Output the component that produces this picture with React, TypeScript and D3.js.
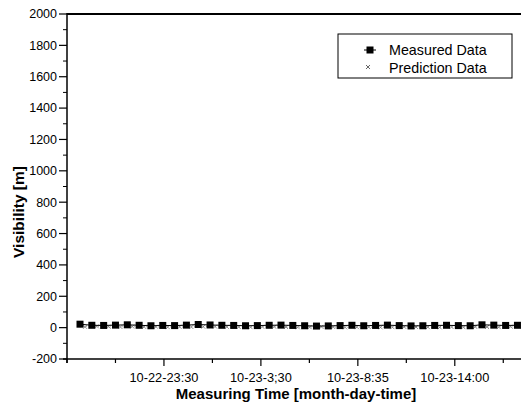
import React from "react";
import * as d3 from "d3";

// visibility samples (index based x axis)
const measured = [22, 15, 14, 16, 18, 15, 12, 14, 13, 16, 20, 17, 15, 14, 12, 13, 15, 16, 14, 12, 10, 11, 13, 15, 12, 14, 16, 13, 11, 12, 14, 15, 13, 12, 18, 16, 14, 15];
const prediction = [5, 8, 6, 4, 7, 5, 6, 3, 5, 4, 6, 7, 5, 4, 3, 5, 6, 4, 2, 3, 5, 4, 2, 3, 4, 2, 3, 5, 4, 3, 2, 4, 3, 5, 4, 3, 6, 4];

// x ticks sit at sample index positions
const xTickPos = [-1.1, 3.0, 7.1, 11.2, 15.3, 19.4, 23.5, 27.6, 31.7, 35.8];
const xTickLabels = ["", "", "10-22-23:30", "", "10-23-3;30", "", "10-23-8:35", "", "10-23-14:00", ""];
const yTicks = [-200, 0, 200, 400, 600, 800, 1000, 1200, 1400, 1600, 1800, 2000];
const yMinor = d3.range(-100, 2000, 200);

const W = 521, H = 404;
const m = { left: 67, top: 14, right: 0, bottom: 45 };

export default function App() {
  const x = d3.scaleLinear().domain([-1.1, 37.3]).range([m.left, W - m.right]);
  const y = d3.scaleLinear().domain([-200, 2000]).range([H - m.bottom, m.top]);
  const font = "Arial, 'Liberation Sans', Helvetica, sans-serif";

  const line = d3.line<number>().x((d, i) => x(i)).y(d => y(d));
  const y0 = y(-200);

  return (
    <svg width={W} height={H} style={{ position: "absolute", left: 0, top: 0, background: "#fff" }} fontFamily={font}>
      {/* frame */}
      <line x1={m.left} x2={W} y1={y(2000)} y2={y(2000)} stroke="#000" strokeWidth={2} />
      <line x1={m.left} x2={m.left} y1={y(2000) - 1} y2={y0 + 4} stroke="#000" strokeWidth={1.5} />
      <line x1={m.left - 4} x2={W} y1={y0} y2={y0} stroke="#000" strokeWidth={1.5} />

      {/* y axis */}
      {yTicks.map(t => (
        <g key={t}>
          <line x1={m.left - 8} x2={m.left} y1={y(t)} y2={y(t)} stroke="#000" strokeWidth={1.2} />
          <text x={m.left - 10} y={y(t)} dy="0.35em" textAnchor="end" fontSize={12.5}>{t}</text>
        </g>
      ))}
      {yMinor.map(t => (
        <line key={t} x1={m.left - 4} x2={m.left} y1={y(t)} y2={y(t)} stroke="#000" strokeWidth={1} />
      ))}

      {/* x axis */}
      {xTickPos.map((p, i) => (
        <g key={i}>
          <line x1={x(p)} x2={x(p)} y1={y0} y2={y0 + (xTickLabels[i] ? 7 : 4)} stroke="#000" strokeWidth={1.2} />
          {xTickLabels[i] && (
            <text x={x(p)} y={y0 + 23} textAnchor="middle" fontSize={12.8}>{xTickLabels[i]}</text>
          )}
        </g>
      ))}

      {/* series */}
      <path d={line(prediction) || ""} fill="none" stroke="#999" strokeWidth={0.8} strokeDasharray="1,2" />
      {prediction.map((d, i) => (
        <g key={i} stroke="#777" strokeWidth={0.8}>
          <line x1={x(i) + 3} x2={x(i) + 7} y1={y(d) - 2} y2={y(d) + 2} />
          <line x1={x(i) + 3} x2={x(i) + 7} y1={y(d) + 2} y2={y(d) - 2} />
        </g>
      ))}
      <path d={line(measured) || ""} fill="none" stroke="#000" strokeWidth={1} />
      {measured.map((d, i) => (
        <rect key={i} x={x(i) - 3.5} y={y(d) - 3.5} width={7} height={7} fill="#000" />
      ))}

      {/* legend */}
      <rect x={338} y={34} width={174} height={44} fill="#fff" stroke="#000" strokeWidth={1} />
      <line x1={364} x2={376} y1={50} y2={50} stroke="#000" strokeWidth={1} />
      <rect x={366.5} y={46.5} width={7} height={7} fill="#000" />
      <text x={389} y={55} fontSize={14.3}>Measured Data</text>
      <g stroke="#555" strokeWidth={0.9}>
        <line x1={366} x2={370} y1={65} y2={69} />
        <line x1={366} x2={370} y1={69} y2={65} />
      </g>
      <text x={389} y={73} fontSize={14.3}>Prediction Data</text>

      {/* titles */}
      <text x={296} y={399} textAnchor="middle" fontSize={15} fontWeight="bold">Measuring Time [month-day-time]</text>
      <text transform={`translate(24,${212}) rotate(-90)`} textAnchor="middle" fontSize={15.5} fontWeight="bold">Visibility [m]</text>
    </svg>
  );
}
